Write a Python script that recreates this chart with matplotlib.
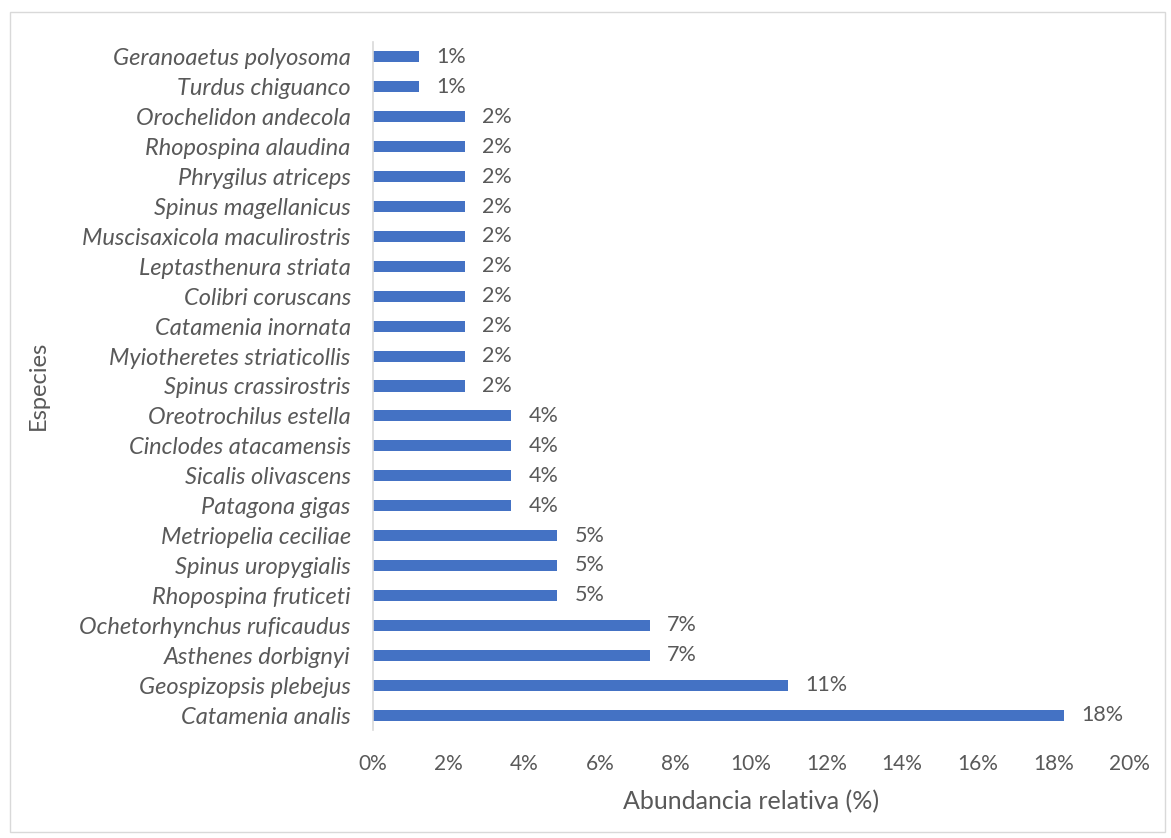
import matplotlib
matplotlib.use("Agg")
import matplotlib.pyplot as plt
from matplotlib.patches import Rectangle
from matplotlib.ticker import FuncFormatter

# species from top to bottom as shown, with individual counts (total 82)
species = [
    "Geranoaetus polyosoma", "Turdus chiguanco", "Orochelidon andecola",
    "Rhopospina alaudina", "Phrygilus atriceps", "Spinus magellanicus",
    "Muscisaxicola maculirostris", "Leptasthenura striata", "Colibri coruscans",
    "Catamenia inornata", "Myiotheretes striaticollis", "Spinus crassirostris",
    "Oreotrochilus estella", "Cinclodes atacamensis", "Sicalis olivascens",
    "Patagona gigas", "Metriopelia ceciliae", "Spinus uropygialis",
    "Rhopospina fruticeti", "Ochetorhynchus ruficaudus", "Asthenes dorbignyi",
    "Geospizopsis plebejus", "Catamenia analis",
]
counts = [1, 1, 2, 2, 2, 2, 2, 2, 2, 2, 2, 2, 3, 3, 3, 3, 4, 4, 4, 6, 6, 9, 15]
total = sum(counts)
abundance = [c / total for c in counts]

grey = "#595959"
blue = "#4472C4"
plt.rcParams["font.family"] = ["Lato", "DejaVu Sans"]

fig = plt.figure(figsize=(11.71, 8.38), dpi=100)
fig.patches.append(Rectangle((10 / 1171, 1 - 832 / 838), 1155 / 1171, 820 / 838,
                             transform=fig.transFigure, fill=False,
                             edgecolor="#d9d9d9", linewidth=1))
ax = fig.add_axes([373 / 1171, 1 - 730 / 838, 756 / 1171, 688 / 838])

ypos = list(range(len(species)))[::-1]
bars = ax.barh(ypos, abundance, height=0.37, color=blue)
for rect, v in zip(bars, abundance):
    ax.text(rect.get_width() + 0.0045, rect.get_y() + rect.get_height() / 2,
            f"{v * 100:.0f}%", va="center", ha="left", fontsize=15.5, color=grey)

ax.set_xlim(0, 0.20)
ax.set_ylim(-0.5, len(species) - 0.5)
ax.set_xticks([i / 100 for i in range(0, 21, 2)])
ax.xaxis.set_major_formatter(FuncFormatter(lambda x, _: f"{x * 100:.0f}%"))
ax.set_yticks(ypos)
ax.set_yticklabels(species, style="italic", fontsize=17)
ax.tick_params(axis="both", length=0, labelcolor=grey)
ax.tick_params(axis="x", pad=17, labelsize=15)
ax.tick_params(axis="y", pad=16)
for side in ["top", "right", "bottom"]:
    ax.spines[side].set_visible(False)
ax.spines["left"].set_color("#d9d9d9")
ax.spines["left"].set_linewidth(1.2)

ax.set_xlabel("Abundancia relativa (%)", fontsize=18, color=grey, labelpad=12)
fig.text(38 / 1171, 1 - 385 / 838, "Especies", rotation=90, ha="center",
         va="center", fontsize=17, color=grey)

fig.savefig("out.png", dpi=100)
